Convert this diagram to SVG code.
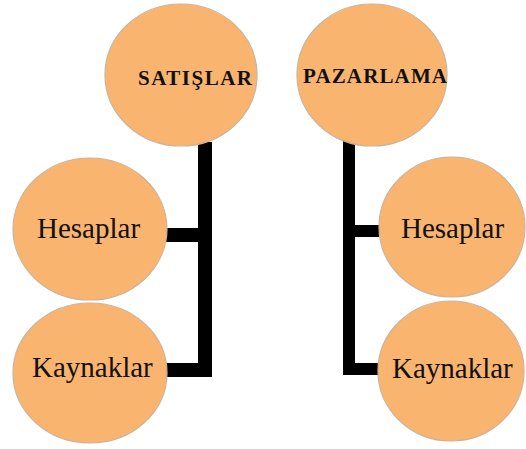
<svg xmlns="http://www.w3.org/2000/svg" width="526" height="449" viewBox="0 0 526 449">
<style>
.node{fill:#F9B470;stroke:#CDB398;stroke-width:1.2}
.head{font-family:"Liberation Serif",serif;font-weight:bold;font-size:21px;fill:#111}
.lbl{font-family:"Liberation Serif",serif;font-size:29px;fill:#111}
.conn{fill:#000}
</style>
<rect width="526" height="449" fill="#fff"/>
<g id="connectors">
<rect class="conn" x="198" y="142" width="14" height="235"/>
<rect class="conn" x="166" y="228" width="34" height="14"/>
<rect class="conn" x="166" y="363" width="34" height="14"/>
<rect class="conn" x="343" y="137" width="12" height="238"/>
<rect class="conn" x="353" y="225" width="27" height="12"/>
<rect class="conn" x="343" y="363" width="37" height="12"/>
</g>
<g id="satislar">
<ellipse class="node" cx="181" cy="75" rx="76" ry="71"/>
<text class="head" x="138" y="85" textLength="114" lengthAdjust="spacing">SATIŞLAR</text>
</g>
<g id="pazarlama">
<ellipse class="node" cx="372" cy="75" rx="75" ry="71"/>
<text class="head" x="303" y="83" textLength="144" lengthAdjust="spacing">PAZARLAMA</text>
</g>
<g id="hesaplar-left">
<ellipse class="node" cx="90" cy="229" rx="77" ry="71"/>
<text class="lbl" x="37" y="238">Hesaplar</text>
</g>
<g id="kaynaklar-left">
<ellipse class="node" cx="90" cy="373" rx="77" ry="70"/>
<text class="lbl" x="32" y="377">Kaynaklar</text>
</g>
<g id="hesaplar-right">
<ellipse class="node" cx="452" cy="227" rx="73" ry="70"/>
<text class="lbl" x="401" y="238">Hesaplar</text>
</g>
<g id="kaynaklar-right">
<ellipse class="node" cx="451" cy="371" rx="73" ry="70"/>
<text class="lbl" x="392" y="378">Kaynaklar</text>
</g>
</svg>
